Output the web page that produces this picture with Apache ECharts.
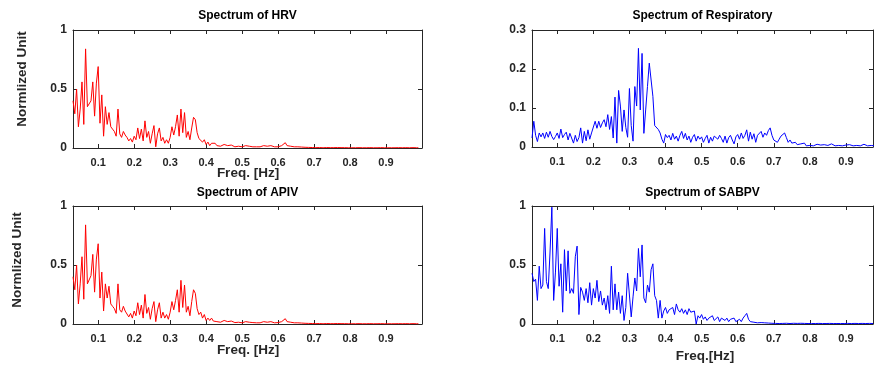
<!DOCTYPE html>
<html>
<head>
<meta charset="utf-8">
<script src="https://cdn.jsdelivr.net/npm/echarts@6/dist/echarts.min.js"></script>
<style>html,body{margin:0;padding:0;background:#fff}#c{width:874px;height:371px}</style>
</head>
<body>
<div id="c"></div>
<script>
// Frequency bins (Hz)
const freq = [0.030,0.035,0.040,0.045,0.050,0.055,0.060,0.065,0.070,0.075,0.080,0.085,0.090,0.095,0.100,0.105,0.110,0.115,0.120,0.125,0.130,0.135,0.140,0.145,0.150,0.155,0.160,0.165,0.170,0.175,0.180,0.185,0.190,0.195,0.200,0.205,0.210,0.215,0.220,0.225,0.230,0.235,0.240,0.245,0.250,0.255,0.260,0.265,0.270,0.275,0.280,0.285,0.290,0.295,0.300,0.305,0.310,0.315,0.320,0.325,0.330,0.335,0.340,0.345,0.350,0.355,0.360,0.365,0.370,0.375,0.380,0.385,0.390,0.395,0.400,0.405,0.410,0.415,0.420,0.425,0.430,0.435,0.440,0.445,0.450,0.455,0.460,0.465,0.470,0.475,0.480,0.485,0.490,0.495,0.500,0.505,0.510,0.515,0.520,0.525,0.530,0.535,0.540,0.545,0.550,0.555,0.560,0.565,0.570,0.575,0.580,0.585,0.590,0.595,0.600,0.605,0.610,0.615,0.620,0.625,0.630,0.635,0.640,0.645,0.650,0.655,0.660,0.665,0.670,0.675,0.680,0.685,0.690,0.695,0.700,0.705,0.710,0.715,0.720,0.725,0.730,0.735,0.740,0.745,0.750,0.755,0.760,0.765,0.770,0.775,0.780,0.785,0.790,0.795,0.800,0.805,0.810,0.815,0.820,0.825,0.830,0.835,0.840,0.845,0.850,0.855,0.860,0.865,0.870,0.875,0.880,0.885,0.890,0.895,0.900,0.905,0.910,0.915,0.920,0.925,0.930,0.935,0.940,0.945,0.950,0.955,0.960,0.965,0.970,0.975,0.980,0.985,0.990,0.995,1.000];

const hrv = [.40,.29,.50,.18,.33,.56,.20,.84,.35,.34,.40,.56,.27,.55,.69,.21,.45,.10,.35,.20,.30,.18,.16,.14,.10,.33,.12,.09,.14,.11,.09,.06,.08,.05,.10,.07,.17,.08,.16,.06,.23,.09,.14,.04,.12,.19,.01,.12,.17,.06,.09,.04,.07,.04,.09,.18,.11,.18,.28,.10,.33,.13,.30,.09,.14,.07,.17,.26,.24,.13,.08,.09,.05,.07,.03,.05,.02,.04,.025,.04,.02,.03,.015,.025,.03,.015,.02,.01,.025,.02,.01,.02,.015,.02,.01,.015,.02,.01,.015,.02,.01,.015,.01,.02,.01,.015,.02,.01,.015,.01,.02,.015,.01,.02,.01,.015,.02,.03,.045,.02,.01,.015,.02,.01,.015,.01,.012,.008,.01,.006,.008,.005,.006,.004,.005,.003,.002,.004,.003,.002,.003,.004,.002,.003,.002,.003,.002,.004,.002,.003,.002,.003,.002,.002,.003,.002,.003,.002,.002,.003,.002,.002,.003,.002,.002,.003,.002,.002,.003,.002,.002,.003,.002,.002,.003,.002,.002,.002,.003,.002,.002,.003,.002,.002,.002,.003,.002,.002,.002,.003,.002,.002,.002];

const resp = [.023,.066,.030,.014,.036,.026,.036,.022,.038,.025,.040,.027,.019,.027,.036,.022,.046,.024,.032,.038,.018,.035,.040,.010,.030,.014,.024,.049,.010,.040,.016,.044,.020,.036,.040,.066,.048,.066,.050,.062,.070,.052,.083,.045,.078,.023,.128,.010,.145,.105,.040,.095,.050,.025,.150,.055,.015,.155,.105,.253,.095,.240,.035,.095,.155,.215,.210,.130,.055,.052,.045,.036,.020,.010,.032,.024,.030,.018,.035,.020,.028,.015,.030,.040,.022,.035,.018,.028,.012,.025,.032,.015,.028,.020,.026,.012,.022,.030,.010,.025,.015,.028,.033,.020,.030,.022,.012,.028,.010,.024,.030,.018,.008,.026,.032,.020,.036,.022,.030,.044,.015,.038,.020,.034,.012,.030,.028,.040,.025,.036,.030,.042,.049,.030,.018,.014,.012,.020,.028,.032,.036,.024,.012,.018,.010,.008,.012,.006,.005,.008,.004,.010,.003,.005,.004,.006,.003,.004,.007,.003,.005,.004,.006,.003,.004,.005,.008,.004,.003,.005,.004,.006,.003,.004,.005,.003,.006,.004,.003,.005,.004,.006,.003,.005,.007,.004,.003,.005,.004,.006,.003,.004,.005,.003,.004];

const apiv = [.40,.29,.50,.17,.34,.57,.21,.84,.34,.35,.41,.59,.27,.55,.68,.22,.44,.11,.34,.22,.32,.17,.15,.13,.09,.34,.12,.10,.15,.11,.10,.06,.09,.05,.11,.07,.18,.08,.16,.05,.25,.09,.14,.04,.13,.19,.02,.12,.18,.05,.10,.05,.08,.04,.10,.19,.12,.20,.29,.10,.37,.14,.33,.10,.15,.07,.19,.29,.26,.13,.08,.10,.05,.08,.03,.05,.03,.05,.025,.04,.02,.03,.015,.03,.03,.015,.02,.01,.025,.02,.012,.02,.015,.02,.01,.018,.02,.01,.015,.02,.012,.015,.01,.02,.01,.015,.02,.012,.015,.01,.02,.015,.01,.02,.012,.015,.02,.03,.045,.02,.01,.015,.02,.01,.015,.01,.012,.008,.01,.006,.008,.005,.006,.004,.005,.003,.002,.004,.003,.002,.003,.004,.002,.003,.002,.003,.002,.004,.002,.003,.002,.003,.002,.002,.003,.002,.003,.002,.002,.003,.002,.002,.003,.002,.002,.003,.002,.002,.003,.002,.002,.003,.002,.002,.003,.002,.002,.002,.003,.002,.002,.003,.002,.002,.002,.003,.002,.002,.002,.003,.002,.002,.002];

const sabpv = [.43,.36,.38,.20,.49,.30,.33,.81,.36,.30,.61,.99,.20,.44,.81,.32,.51,.10,.63,.28,.62,.26,.30,.26,.57,.66,.08,.31,.27,.20,.30,.18,.35,.16,.30,.22,.37,.19,.28,.16,.22,.12,.24,.09,.49,.12,.34,.12,.27,.09,.24,.03,.14,.43,.44,.06,.23,.39,.28,.64,.40,.67,.22,.18,.33,.27,.46,.51,.24,.20,.05,.20,.05,.11,.14,.09,.12,.11,.14,.08,.17,.12,.10,.13,.09,.12,.08,.13,.10,.09,.11,.00,.07,.05,.08,.04,.06,.03,.05,.04,.07,.03,.04,.06,.02,.05,.04,.03,.05,.02,.04,.03,.05,.02,.03,.04,.02,.05,.07,.09,.04,.02,.03,.015,.02,.01,.02,.012,.015,.01,.012,.008,.01,.006,.008,.005,.007,.004,.006,.005,.004,.006,.005,.004,.005,.006,.004,.005,.004,.006,.004,.005,.004,.004,.005,.004,.005,.004,.004,.005,.004,.004,.005,.004,.004,.005,.004,.004,.005,.004,.004,.004,.005,.004,.004,.005,.004,.004,.004,.005,.004,.004,.004,.005,.004,.004,.004,.005,.004,.004];

const xTicks = [0.1,0.2,0.3,0.4,0.5,0.6,0.7,0.8,0.9];
const titles = ['Spectrum of HRV','Spectrum of Respiratory','Spectrum of APIV','Spectrum of SABPV'];

const FONT = '"Liberation Sans", Arial, Helvetica, sans-serif';
const AX = '#262626';
const grids = [
  {left:73, top:30, width:349, height:118},
  {left:532, top:30, width:341, height:117},
  {left:73, top:206, width:349, height:118},
  {left:532, top:206, width:341, height:118}
];
const xMax = [1.0, 0.975, 1.0, 0.975];
const yMax = [1, 0.3, 1, 1];
const yInt = [0.5, 0.1, 0.5, 0.5];
const seriesVals = [hrv, resp, apiv, sabpv];
const colors = ['#ff0000','#0000ff','#ff0000','#0000ff'];

const xAxes = [], yAxes = [], series = [];
grids.forEach((g, i) => {
  const common = {
    type:'value', gridIndex:i, min:0.03, max:xMax[i],
    splitLine:{show:false},
    axisLine:{show:true, onZero:false, lineStyle:{color:AX, width:1}},
  };
  xAxes.push(Object.assign({}, common, {
    position:'bottom',
    axisTick:{show:true, inside:true, length:4, lineStyle:{color:AX}, customValues:xTicks},
    axisLabel:{show:true, customValues:xTicks, color:AX, fontSize:11, fontWeight:'bold', fontFamily:FONT, margin:9,
      formatter:v=>v.toFixed(1)}
  }));
  xAxes.push(Object.assign({}, common, {
    position:'top',
    axisTick:{show:true, inside:true, length:4, lineStyle:{color:AX}, customValues:xTicks},
    axisLabel:{show:false}
  }));
  const ycommon = {
    type:'value', gridIndex:i, min:0, max:yMax[i], interval:yInt[i],
    splitLine:{show:false},
    axisLine:{show:true, onZero:false, lineStyle:{color:AX, width:1}},
    axisTick:{show:true, inside:true, length:4, lineStyle:{color:AX}}
  };
  yAxes.push(Object.assign({}, ycommon, {
    position:'left',
    axisLabel:{show:true, color:AX, fontSize:12, fontWeight:'bold', fontFamily:FONT, margin:6}
  }));
  yAxes.push(Object.assign({}, ycommon, {
    position:'right',
    axisLabel:{show:false}
  }));
  series.push({
    type:'line', xAxisIndex:2*i, yAxisIndex:2*i,
    data: freq.map((f, k) => [f, seriesVals[i][k]]),
    showSymbol:false, symbol:'none', clip:true,
    lineStyle:{color:colors[i], width:1}
  });
});

const titleStyle = {fill:'#000', fontSize:12, fontWeight:'bold', fontFamily:FONT};
const nameStyle = {fill:'#262626', fontSize:13.5, fontWeight:'bold', fontFamily:FONT};
function txt(t, x, y, st, rot) {
  return {type:'text', x:x, y:y, rotation:rot || 0,
    style:Object.assign({text:t, x:0, y:0, align:'center', verticalAlign:'middle'}, st)};
}
const option = {
  animation:false,
  backgroundColor:'#fff',
  grid: grids,
  xAxis: xAxes,
  yAxis: yAxes,
  series: series,
  graphic: [
    txt(titles[0], 247.5, 16, titleStyle),
    txt(titles[1], 702.5, 16, titleStyle),
    txt(titles[2], 247.5, 193, titleStyle),
    txt(titles[3], 702.5, 193, titleStyle),
    txt('Freq. [Hz]', 248, 173, nameStyle),
    txt('Freq. [Hz]', 248, 350, nameStyle),
    txt('Freq.[Hz]', 705, 356, nameStyle),
    txt('Normlized Unit', 22, 79, nameStyle, Math.PI/2),
    txt('Normlized Unit', 17, 260, nameStyle, Math.PI/2)
  ]
};
echarts.init(document.getElementById('c'), null, {renderer:'canvas'}).setOption(option);
</script>
</body>
</html>
